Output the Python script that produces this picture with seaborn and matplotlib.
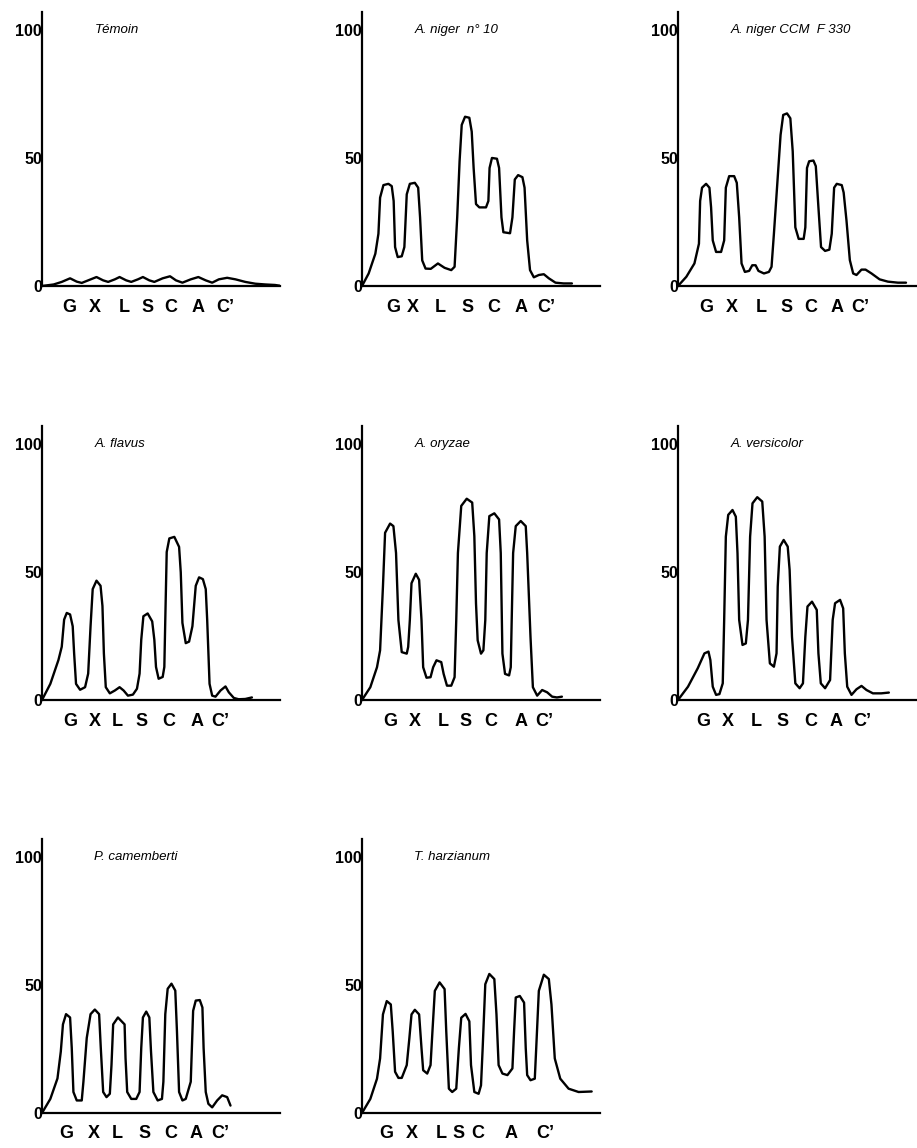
import matplotlib

matplotlib.use("Agg")
import matplotlib.pyplot as plt
import pandas as pd
import seaborn as sns

# traced chromatogram outlines: x = position along the plate (0-100), y = % response
temoin_x = [0, 4.9, 8.3, 11.8, 14.6, 16.7, 19.4, 22.9, 25.7, 27.8, 30.6, 32.6, 35.4, 37.5,
            40.3, 42.4, 45.1, 47.2, 50.7, 53.8, 56.3, 59, 62.5, 65.7, 68.8, 71.5, 74.3,
            77.8, 81.3, 85.4, 89.6, 93.8, 97.9, 100.7]
temoin_y = [0, 0.6, 1.6, 3, 1.7, 1.2, 2.2, 3.5, 2.2, 1.6, 2.6, 3.5, 2.2, 1.6,
            2.6, 3.5, 2.2, 1.6, 3, 3.8, 2.2, 1.3, 2.6, 3.5, 2.2, 1.3, 2.6,
            3.2, 2.6, 1.6, 0.9, 0.6, 0.4, 0]

niger10_x = [0, 2.8, 5.6, 6.9, 7.6, 9.0, 11.1, 12.5, 13.3, 13.9, 15, 16.7, 17.8, 18.8, 20.1,
             22.2, 23.6, 24.4, 25.3, 26.7, 28.9, 31.9, 34.7, 37.5, 38.9, 40, 41, 41.9,
             43.3, 45.1, 46.1, 46.9, 47.9, 49.3, 52.1, 53.1, 53.6, 54.6, 56.7, 57.6,
             58.6, 59.4, 62.2, 63.2, 64.2, 65.6, 67.4, 68.3, 69.4, 70.6, 72.2, 74.3,
             76.4, 78.5, 81.3, 84.7, 88.2]
niger10_y = [0, 4.9, 12.6, 20.4, 34.5, 39.4, 39.9, 39, 33.2, 15.2, 11.3, 11.6, 15.2, 35.8, 39.9,
             40.3, 38.4, 26.8, 10, 6.8, 6.7, 8.8, 7.1, 6.2, 7.5, 26.8, 48.7, 62.9,
             66.1, 65.7, 60.3, 46.1, 32, 30.7, 30.7, 33.2, 46.1, 50, 49.7, 46.1,
             26.8, 21, 20.6, 26.8, 41.6, 43.3, 42.5, 38.4, 17.8, 6.2, 3.4, 4.3,
             4.6, 3, 1.3, 1, 1]

ccm_x = [0, 3.5, 6.9, 8.8, 9.3, 10.1, 11.8, 13.2, 13.9, 14.6, 16, 18.1, 19.4, 20.1, 21.5,
         23.6, 24.7, 25.7, 26.7, 28.1, 29.9, 31.2, 32.6, 33.8, 36.1, 38.2, 39.3, 40.3,
         41.7, 43.1, 44.2, 45.8, 47.2, 48.2, 49.3, 50.7, 52.8, 53.5, 54.2, 55.1, 56.9,
         57.9, 59, 60.1, 61.8, 63.6, 64.6, 65.6, 66.7, 68.8, 69.6, 70.8, 72.2, 73.6,
         75, 77.1, 78.8, 81.3, 84.7, 88.2, 92.4, 95.8]
ccm_y = [0, 3.6, 8.8, 16.5, 33.2, 38.4, 39.9, 38.4, 30.7, 17.8, 13.3, 13.3, 17.8, 38.4, 42.9,
         42.9, 40.3, 26.8, 8.8, 5.5, 5.9, 8.1, 8.1, 5.9, 4.9, 5.5, 7.5, 20.4,
         39.7, 59, 66.8, 67.4, 65.5, 52.6, 22.9, 18.4, 18.4, 22.9, 46.1, 48.7, 49,
         46.8, 30.7, 15.2, 13.7, 14.2, 20.4, 38.4, 39.9, 39.4, 36.5, 25.5, 10.1, 4.9,
         4.3, 6.4, 6.4, 4.9, 2.6, 1.7, 1.3, 1.3]

flavus_x = [0, 3.5, 6.9, 8.3, 9.3, 10.4, 11.8, 12.9, 13.5, 14.3, 16, 18.1, 19.4, 20.4, 21.3,
            22.9, 24.6, 25.4, 26, 26.8, 28.5, 30.6, 32.6, 34.3, 36.1, 38.2, 39.9, 41,
            41.7, 42.6, 44.4, 46.3, 47.2, 47.9, 49, 50.7, 51.4, 51.8, 52.4, 53.5, 55.6,
            57.6, 58.3, 59, 60.4, 61.8, 63.2, 64.6, 66, 67.6, 68.8, 69.4, 70.4, 71.5,
            72.9, 75, 77.1, 78.5, 80.6, 82.6, 85.4, 88.2]
flavus_y = [0, 6.3, 15.6, 20.8, 31.4, 34, 33.4, 28.8, 18.2, 6.3, 4, 5, 10.3, 28.8, 43.3,
            46.6, 44.6, 36.7, 18.2, 5, 2.6, 3.7, 5, 3.7, 1.7, 2.1, 4.4, 10.3,
            23.5, 32.7, 33.8, 30.7, 23.5, 12.9, 8.3, 9, 12.9, 31.4, 57.8, 63.1, 63.7,
            59.8, 49.9, 30.1, 22.2, 22.8, 28.8, 44.6, 47.9, 47.2, 43.3, 31.4, 6.3, 1.7,
            1.3, 3.7, 5.3, 3, 0.8, 0.3, 0.4, 1]

oryzae_x = [0, 3.5, 6.3, 7.6, 8.8, 9.7, 11.8, 13.2, 14.3, 15.3, 16.7, 18.8, 19.4, 20.1, 20.8,
            22.6, 24, 25, 25.7, 27.1, 28.8, 29.9, 31.3, 33.3, 34.3, 35.7, 37.5, 38.9,
            39.6, 40.3, 41.7, 44, 46.3, 47.2, 47.9, 48.6, 50, 51, 51.8, 52.4, 53.5,
            55.6, 57.6, 58.3, 59, 60.1, 61.8, 62.5, 62.9, 63.5, 64.6, 66.7, 68.8, 69.4,
            70.8, 71.8, 73.6, 75.7, 77.8, 79.9, 81.9, 84]
oryzae_y = [0, 5, 12.8, 19.4, 44.3, 65.3, 68.9, 67.9, 57.4, 31.2, 18.7, 18.1, 20.7, 31.2, 45.6,
            49.3, 46.9, 31.2, 12.8, 8.7, 8.9, 12.8, 15.5, 14.8, 10.2, 5.6, 5.6, 8.9,
            31.2, 57.4, 75.8, 78.6, 77.1, 64, 37.7, 23.3, 18.1, 19.4, 31.2, 57.4, 71.8,
            72.9, 70.5, 57.4, 18.1, 10.2, 9.6, 12.8, 31.2, 57.4, 67.9, 69.9, 67.9, 57.4,
            24.6, 5, 1.7, 3.9, 3, 1.3, 1, 1.3]

versicolor_x = [0, 4.2, 8.3, 11.1, 12.8, 13.6, 14.6, 16, 17.4, 18.8, 19.4, 20.1, 21.1, 22.9,
                24.3, 25, 25.7, 27.1, 28.5, 29.4, 30.3, 31.3, 33.3, 35.4, 36.4, 37.2, 38.6,
                40.3, 41.4, 41.9, 42.8, 44.4, 46.1, 46.9, 47.9, 49.3, 51.1, 52.5, 53.5,
                54.4, 56.3, 58.3, 59, 60, 61.8, 63.9, 65, 66, 68.1, 69.4, 70.1, 71.1,
                72.9, 75, 77.1, 79.2, 81.9, 85.4, 88.6]
versicolor_y = [0, 5.2, 12.4, 18.2, 18.9, 15.6, 5.2, 2, 2.3, 6.5, 31.3, 63.8, 72.3, 74.2,
                71.6, 57.3, 31.3, 21.5, 22.1, 31.3, 63.8, 76.8, 79.2, 77.5, 63.8, 31.3, 14.3,
                13, 18.2, 44.3, 59.9, 62.5, 59.9, 50.8, 24.7, 6.5, 4.6, 6.5, 24.7,
                36.5, 38.4, 35.2, 18.2, 6.5, 4.6, 7.8, 31.3, 37.8, 39.1, 35.8, 18.2, 5.2,
                2, 4.2, 5.5, 3.9, 2.6, 2.6, 2.9]

camemberti_x = [0, 3.5, 6.5, 7.9, 8.8, 10.1, 11.8, 12.5, 13.2, 14.6, 16.7, 17.4, 18.8, 20.4,
                22.2, 24, 24.7, 25.7, 27.1, 28.5, 29.2, 29.9, 31.9, 34.7, 35.1, 35.8, 37.5,
                39.6, 41, 41.7, 42.4, 43.8, 45.1, 45.8, 46.8, 48.6, 50.4, 51, 51.8, 52.8,
                54.4, 56, 56.7, 57.6, 59, 60.4, 62.5, 63.5, 64.6, 66.3, 67.4, 67.9, 68.8,
                69.9, 71.5, 73.6, 75.7, 77.8, 79.2]
camemberti_y = [0, 5.5, 13.5, 24, 34.6, 38.6, 37.3, 25.4, 8.2, 4.9, 4.9, 12.2, 29.3, 38.6,
                40.4, 38.6, 25.4, 8.2, 6.2, 7.5, 18.8, 34.6, 37.3, 34.6, 21.4, 8.2, 5.5,
                5.5, 8.2, 25.4, 37.3, 39.6, 37.3, 24, 8.2, 4.9, 5.5, 12.2, 38.6, 48.5,
                50.5, 47.8, 32, 8.2, 4.9, 5.5, 12.2, 39.9, 43.9, 44.1, 41.2, 25.4, 8.2,
                3.6, 2.2, 4.9, 6.9, 6.2, 2.9]

harzianum_x = [0, 3.5, 6.3, 7.6, 8.8, 10.4, 12.1, 12.9, 13.9, 15.3, 16.7, 18.8, 19.9, 20.8,
               22.2, 24, 25, 25.7, 27.4, 28.8, 29.6, 30.6, 32.6, 34.7, 35.4, 36.5, 37.9,
               39.6, 40.7, 41.7, 43.5, 45.1, 45.8, 47.2, 49, 50, 50.7, 51.8, 53.5, 55.6,
               56.5, 57.4, 59, 61.1, 63.2, 63.9, 64.6, 66.3, 68.1, 68.8, 69.4, 70.8, 72.6,
               73.2, 74.3, 76.4, 78.5, 79.6, 81, 83.3, 86.8, 91, 96.5]
harzianum_y = [0, 5.5, 13.4, 21.3, 38.5, 43.7, 42.4, 31.9, 16.1, 13.7, 13.7, 18.7, 29.2, 38.5,
               40.3, 38.5, 25.3, 16.7, 15.4, 18.7, 31.9, 47.7, 51, 48.4, 31.9, 9.5, 8.2,
               9.5, 25.3, 37.2, 38.7, 35.8, 18.7, 8.2, 7.5, 10.8, 25.3, 50.3, 54.3, 52.3,
               38.5, 18.7, 15.4, 14.8, 17.4, 31.9, 45.1, 45.7, 43.1, 25.3, 14.8, 12.8, 13.4,
               25.3, 47.7, 54, 52.3, 42.4, 21.3, 13.4, 9.5, 8.2, 8.4]

titles = ["Témoin", "A. niger  n° 10", "A. niger CCM  F 330", "A. flavus", "A. oryzae",
          "A. versicolor", "P. camemberti", "T. harzianum"]
sugars = ["G", "X", "L", "S", "C", "A", "C’"]
y_ticks = [0, 50, 100]

curves = [(temoin_x, temoin_y), (niger10_x, niger10_y), (ccm_x, ccm_y),
          (flavus_x, flavus_y), (oryzae_x, oryzae_y), (versicolor_x, versicolor_y),
          (camemberti_x, camemberti_y), (harzianum_x, harzianum_y)]

# where the sugar letters sit under each panel (layout only)
label_pos = [
    [11.3, 22, 34.6, 44.4, 54.3, 65.4, 77],
    [13, 21.4, 32.9, 44.3, 55.4, 66.8, 77.5],
    [12, 22.6, 35, 45.8, 55.8, 66.7, 76.5],
    [11.7, 22, 31.7, 41.7, 53.3, 65, 75],
    [11.7, 22, 34, 43.7, 54.2, 66.7, 76.5],
    [10.6, 20.9, 32.9, 43.8, 55.8, 66.3, 77.5],
    [10.3, 21.7, 31.8, 43, 54, 64.7, 75],
    [10.3, 20.8, 33.3, 40.4, 48.8, 62.5, 77],
]

sns.set_style("white")
plt.rcParams["font.family"] = ["Liberation Sans", "DejaVu Sans"]
plt.rcParams.update({"text.color": "black", "xtick.color": "black",
                     "ytick.color": "black", "axes.labelcolor": "black"})

W, H = 917, 1148
fig = plt.figure(figsize=(W / 100, H / 100), dpi=100)

col_left = [42, 362, 678]
row_base = [286, 700, 1113]
ax_w, ax_h = 238, 274

for i, (title, (xs, ys)) in enumerate(zip(titles, curves)):
    r, c = divmod(i, 3)
    ax = fig.add_axes([col_left[c] / W, (H - row_base[r]) / H, ax_w / W, ax_h / H])
    df = pd.DataFrame({"x": xs, "y": ys})
    sns.lineplot(data=df, x="x", y="y", sort=False, color="black", lw=1.7,
                 solid_joinstyle="round", solid_capstyle="round", ax=ax)
    ax.set_xlim(0, 100)
    ax.set_ylim(0, 107)
    sns.despine(ax=ax)
    for side in ("left", "bottom"):
        ax.spines[side].set_linewidth(1.6)
        ax.spines[side].set_color("black")
    ax.set_yticks(y_ticks)
    ax.set_yticklabels([str(v) for v in y_ticks], fontweight="bold", fontsize=11.5)
    ax.tick_params(axis="y", direction="in", length=8, width=1.2, pad=0, color="black")
    ax.set_xticks(label_pos[i])
    ax.set_xticklabels(sugars, fontweight="bold", fontsize=13)
    ax.tick_params(axis="x", length=0, pad=9)
    ax.set_xlabel("")
    ax.set_ylabel("")
    ax.text(22, 100, title, ha="left", va="center", style="italic", fontsize=9.5,
            color="black")

fig.savefig("out.png", dpi=100)
